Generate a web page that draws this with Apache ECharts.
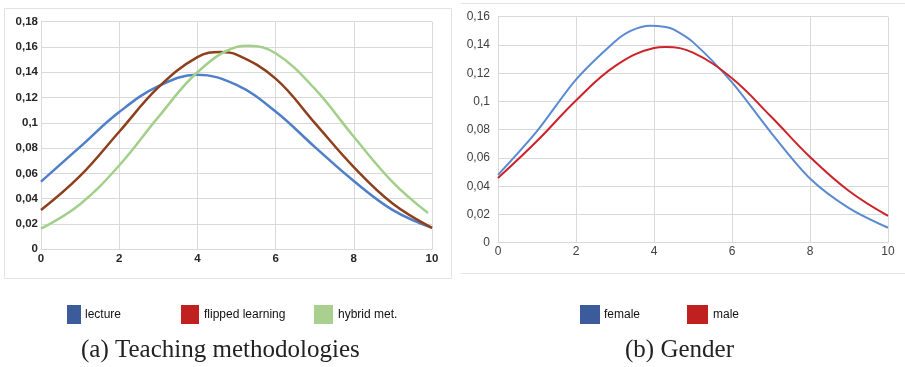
<!DOCTYPE html>
<html><head><meta charset="utf-8">
<script src="https://cdn.jsdelivr.net/npm/echarts@6/dist/echarts.min.js"></script>
<style>html,body{margin:0;padding:0;background:#fff}#c{width:905px;height:367px}</style>
</head><body><div id="c"></div>
<script>
// Left panel (a) Teaching methodologies
const lectureX = [0,1,2,3,4,5,6,7,8,9,10];
const lectureY = [0.0535,0.081,0.1085,0.129,0.138,0.130,0.109,0.081,0.054,0.031,0.017];
const flippedX = [0,1,2,3,4,4.6,5,6,7,8,9,10];
const flippedY = [0.031,0.058,0.093,0.128,0.152,0.156,0.154,0.135,0.100,0.065,0.036,0.017];
const hybridX = [0,1,2,3,4,5,5.3,6,7,8,9,9.9];
const hybridY = [0.0163,0.0357,0.0663,0.1045,0.140,0.160,0.161,0.155,0.127,0.089,0.053,0.0287];
// Right panel (b) Gender
const femaleX = [0,1,2,3,3.4,3.9,4.3,4.5,5,6,7,8,9,10];
const femaleY = [0.048,0.079,0.1155,0.1425,0.150,0.1536,0.1527,0.151,0.142,0.1135,0.078,0.0455,0.0245,0.0106];
const maleX = [0,1,2,3,4,4.3,5,6,7,8,9,10];
const maleY = [0.0458,0.072,0.1007,0.125,0.1378,0.1385,0.1345,0.1164,0.0893,0.0607,0.0366,0.019];
const xTicks = [0,2,4,6,8,10];
const leftYTicks = [0,0.02,0.04,0.06,0.08,0.1,0.12,0.14,0.16,0.18];
const rightYTicks = [0,0.02,0.04,0.06,0.08,0.1,0.12,0.14,0.16];

const pts = (xs, ys) => xs.map((x, i) => [x, ys[i]]);
const fmt = v => Number(v.toFixed(2)).toString().replace('.', ',');

const chart = echarts.init(document.getElementById('c'), null, {renderer: 'canvas'});
const gridLine = {show: true, lineStyle: {color: '#d9d9d9', width: 1}};
const axisLine = {show: true, lineStyle: {color: '#d9d9d9', width: 1}};

chart.setOption({
  animation: false,
  backgroundColor: '#fff',
  grid: [
    {left: 41, right: 905 - 432, top: 21.7, bottom: 367 - 249.3},
    {left: 498, right: 905 - 888, top: 16.7, bottom: 367 - 242.7}
  ],
  xAxis: [
    {gridIndex: 0, type: 'value', min: 0, max: 10, interval: 2,
     axisLine: axisLine, axisTick: {show: false}, splitLine: gridLine,
     axisLabel: {fontFamily: 'Liberation Sans', fontSize: 11.5, fontWeight: 'bold', color: '#262626', margin: 4, formatter: fmt}},
    {gridIndex: 1, type: 'value', min: 0, max: 10, interval: 2,
     axisLine: axisLine, axisTick: {show: false}, splitLine: gridLine,
     axisLabel: {fontFamily: 'Liberation Sans', fontSize: 12, color: '#404040', margin: 3, formatter: fmt}}
  ],
  yAxis: [
    {gridIndex: 0, type: 'value', min: 0, max: 0.18, interval: 0.02,
     axisLine: axisLine, axisTick: {show: false}, splitLine: gridLine,
     axisLabel: {fontFamily: 'Liberation Sans', fontSize: 11.5, fontWeight: 'bold', color: '#262626', margin: 3, formatter: fmt}},
    {gridIndex: 1, type: 'value', min: 0, max: 0.16, interval: 0.02,
     axisLine: {show: false}, axisTick: {show: false}, splitLine: gridLine,
     axisLabel: {fontFamily: 'Liberation Sans', fontSize: 12, color: '#404040', margin: 8, formatter: fmt}}
  ],
  legend: [
    {data: [{name: 'lecture', itemStyle: {color: '#3B5B9A'}}], left: 62, top: 300, icon: 'rect', itemWidth: 14, itemHeight: 19, itemGap: 4,
     textStyle: {fontFamily: 'Liberation Sans', fontSize: 12, color: '#111', padding: [0,0,0,-1]}},
    {data: [{name: 'flipped learning', itemStyle: {color: '#C0201F'}}], left: 176, top: 300, icon: 'rect', itemWidth: 18, itemHeight: 19,
     textStyle: {fontFamily: 'Liberation Sans', fontSize: 12, color: '#111'}},
    {data: [{name: 'hybrid met.', itemStyle: {color: '#A9D08E'}}], left: 309, top: 300, icon: 'rect', itemWidth: 19, itemHeight: 19,
     textStyle: {fontFamily: 'Liberation Sans', fontSize: 12, color: '#111'}},
    {data: [{name: 'female', itemStyle: {color: '#3B5B9A'}}], left: 575, top: 300, icon: 'rect', itemWidth: 20, itemHeight: 19,
     textStyle: {fontFamily: 'Liberation Sans', fontSize: 12, color: '#111', padding: [0,0,0,-1]}},
    {data: [{name: 'male', itemStyle: {color: '#C0201F'}}], left: 682, top: 300, icon: 'rect', itemWidth: 21, itemHeight: 19,
     textStyle: {fontFamily: 'Liberation Sans', fontSize: 12, color: '#111'}}
  ],
  series: [
    {name: 'lecture', type: 'line', xAxisIndex: 0, yAxisIndex: 0, data: pts(lectureX, lectureY), smooth: 0.4, showSymbol: false,
     lineStyle: {color: '#4E7FC8', width: 2.5}, itemStyle: {color: '#3B5B9A'}},
    {name: 'flipped learning', type: 'line', xAxisIndex: 0, yAxisIndex: 0, data: pts(flippedX, flippedY), smooth: 0.4, showSymbol: false,
     lineStyle: {color: '#8E3F1C', width: 2.5}, itemStyle: {color: '#C0201F'}},
    {name: 'hybrid met.', type: 'line', xAxisIndex: 0, yAxisIndex: 0, data: pts(hybridX, hybridY), smooth: 0.4, showSymbol: false,
     lineStyle: {color: '#A2D08B', width: 2.5}, itemStyle: {color: '#A9D08E'}},
    {name: 'female', type: 'line', xAxisIndex: 1, yAxisIndex: 1, data: pts(femaleX, femaleY), smooth: 0.3, showSymbol: false,
     lineStyle: {color: '#5A8AD2', width: 2}, itemStyle: {color: '#3B5B9A'}},
    {name: 'male', type: 'line', xAxisIndex: 1, yAxisIndex: 1, data: pts(maleX, maleY), smooth: 0.4, showSymbol: false,
     lineStyle: {color: '#CC2229', width: 2}, itemStyle: {color: '#C0201F'}}
  ],
  graphic: [
    {type: 'rect', shape: {x: 4.5, y: 8.5, width: 447, height: 270}, style: {fill: 'none', stroke: '#e3e3e3', lineWidth: 1}, silent: true},
    {type: 'line', shape: {x1: 461, y1: 3.5, x2: 905, y2: 3.5}, style: {stroke: '#e3e3e3', lineWidth: 1}, silent: true},
    {type: 'line', shape: {x1: 461, y1: 273.5, x2: 905, y2: 273.5}, style: {stroke: '#e3e3e3', lineWidth: 1}, silent: true},
    {type: 'text', left: 81, top: 338, style: {text: '(a) Teaching methodologies', font: '25px "Liberation Serif"', fill: '#222'}, silent: true},
    {type: 'text', left: 625, top: 338, style: {text: '(b) Gender', font: '25px "Liberation Serif"', fill: '#222'}, silent: true}
  ]
});
</script></body></html>
